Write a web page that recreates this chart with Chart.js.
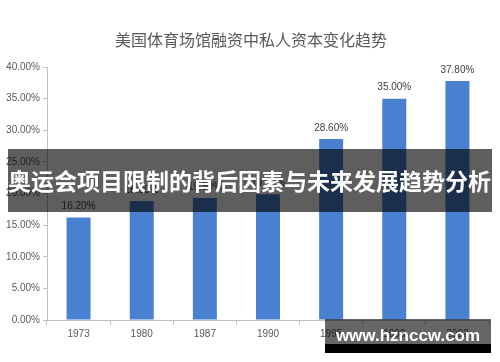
<!DOCTYPE html>
<html>
<head>
<meta charset="utf-8">
<script src="https://cdn.jsdelivr.net/npm/chart.js@4/dist/chart.umd.min.js"></script>
<style>
  body { margin: 0; background: #fff; }
  #wrap { position: relative; width: 500px; height: 362px; }
  #banner {
    position: absolute; left: 8px; top: 149px; width: 484px; height: 63px;
    background: rgba(0,0,0,0.63); color: #fff;
    font: bold 23px "Noto Sans CJK SC", sans-serif;
    line-height: 63px; white-space: nowrap; overflow: hidden;
  }
  #mark {
    position: absolute; left: 325px; top: 319px; width: 166px; height: 25px;
    background: rgba(0,0,0,0.6); color: #fff;
    font: bold 17px "Liberation Sans", sans-serif; line-height: 34px;
    text-align: center; white-space: nowrap;
  }
  #markbar { position: absolute; left: 325px; top: 344px; width: 166px; height: 9px; background: #000; }
</style>
</head>
<body>
<div id="wrap">
  <canvas id="myChart" width="500" height="362"></canvas>
  <div id="banner">奥运会项目限制的背后因素与未来发展趋势分析</div>
  <div id="mark">www.hznccw.com</div>
  <div id="markbar"></div>
</div>
<script>
// chart data
const chartTitle = '美国体育场馆融资中私人资本变化趋势';
const years = ['1973', '1980', '1987', '1990', '1995', '1998', '2002'];
const privateShare = [16.2, 18.8, 19.3, 19.9, 28.6, 35.0, 37.8];

// title centred on the whole picture, values above bars
const extras = {
  id: 'extras',
  afterDatasetsDraw(chart) {
    const ctx = chart.ctx;
    const meta = chart.getDatasetMeta(0);
    ctx.save();
    ctx.font = '16px "Noto Sans CJK SC", sans-serif';
    ctx.fillStyle = '#595959';
    ctx.textAlign = 'center';
    ctx.textBaseline = 'middle';
    ctx.fillText(chartTitle, 251, 40);

    ctx.font = '10px "Liberation Sans", sans-serif';
    ctx.fillStyle = '#404040';
    ctx.textBaseline = 'bottom';
    meta.data.forEach((bar, i) => {
      ctx.fillText(privateShare[i].toFixed(2) + '%', bar.x, bar.y - 6);
    });
    ctx.restore();
  }
};

const ctx = document.getElementById('myChart');
const myChart = new Chart(ctx, {
  type: 'bar',
  data: {
    labels: years,
    datasets: [{
      data: privateShare,
      backgroundColor: '#4a80d0',
      categoryPercentage: 1,
      barPercentage: 0.38
    }]
  },
  options: {
    responsive: false,
    animation: false,
    layout: { padding: { left: 0, right: 11, top: 67, bottom: 12 } },
    plugins: {
      legend: { display: false },
      tooltip: { enabled: false }
    },
    scales: {
      x: {
        afterFit: s => { s.height = 30; },
        grid: { drawOnChartArea: false, tickLength: 5, color: '#bfbfbf' },
        border: { color: '#bfbfbf' },
        ticks: { color: '#595959', font: { family: '"Liberation Sans"', size: 10 }, padding: 3 }
      },
      y: {
        min: 0,
        max: 40,
        afterFit: s => { s.width = 47; },
        grid: { drawOnChartArea: false, tickLength: 4, color: '#bfbfbf' },
        border: { color: '#bfbfbf' },
        ticks: {
          stepSize: 5,
          color: '#595959',
          font: { family: '"Liberation Sans"', size: 10 },
          padding: 3,
          callback: v => v.toFixed(2) + '%'
        }
      }
    }
  },
  plugins: [extras]
});
</script>
</body>
</html>
